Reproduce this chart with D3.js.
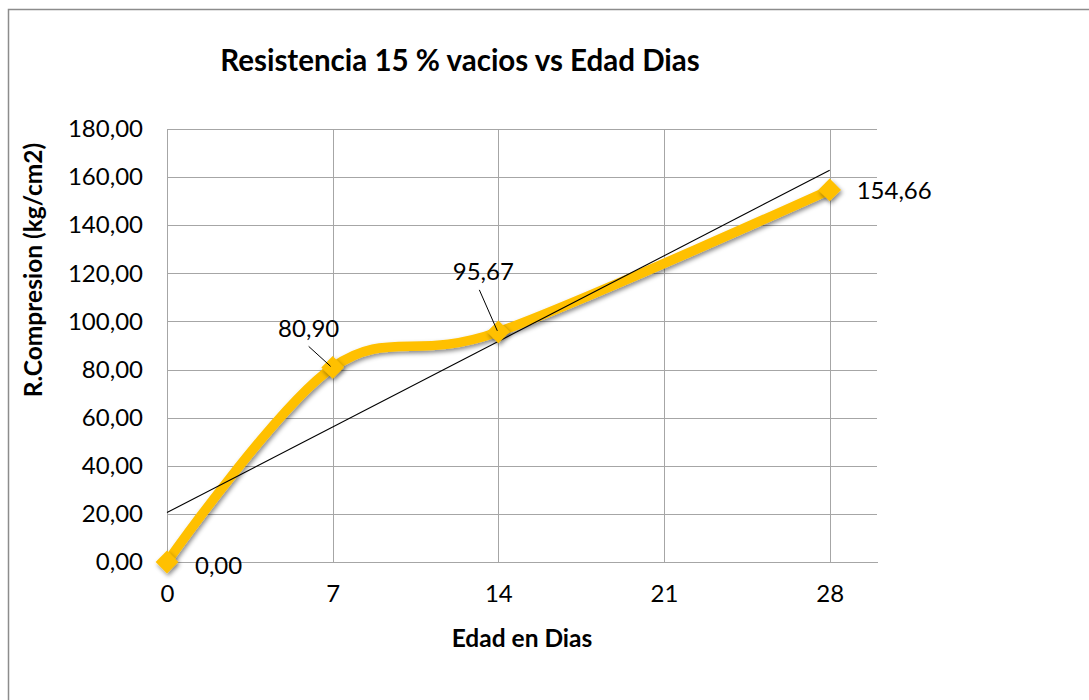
<!DOCTYPE html>
<html>
<head>
<meta charset="utf-8">
<script src="https://cdn.jsdelivr.net/npm/d3@7"></script>
<style>
  html, body { margin: 0; padding: 0; background: #fff; }
  svg { display: block; font-family: Lato, "Open Sans", sans-serif; }
</style>
</head>
<body>
<svg id="chart" width="1089" height="700"></svg>
<script>
// Compressive strength (kg/cm2) against age in days
const edadDias = [0, 7, 14, 28];
const resistencia = [0.00, 80.90, 95.67, 154.66];
const xTicks = [0, 7, 14, 21, 28];
const yTicks = [0, 20, 40, 60, 80, 100, 120, 140, 160, 180];

const titulo = "Resistencia 15 % vacios vs Edad Dias";
const tituloX = "Edad en Dias";
const tituloY = "R.Compresion (kg/cm2)";

const fmt = v => d3.format(".2f")(v).replace(".", ",");

const svg = d3.select("#chart");

// chart frame
svg.append("rect")
  .attr("x", 8.5).attr("y", 9.5)
  .attr("width", 1100).attr("height", 720)
  .attr("fill", "#fff").attr("stroke", "#8c8c8c").attr("stroke-width", 1.5);

const plot = { left: 167, right: 877, top: 129, bottom: 562 };

const x = d3.scaleLinear().domain([0, 30]).range([plot.left, plot.right]);
const y = d3.scaleLinear().domain([0, 180]).range([plot.bottom, plot.top]);

const defs = svg.append("defs");
const shadow = defs.append("filter").attr("id", "sombra")
  .attr("x", "-50%").attr("y", "-50%").attr("width", "200%").attr("height", "200%");
shadow.append("feDropShadow")
  .attr("dx", 1.5).attr("dy", 2.5).attr("stdDeviation", 2.2)
  .attr("flood-color", "#000").attr("flood-opacity", 0.45);

// horizontal gridlines
svg.append("g")
  .attr("transform", `translate(${plot.left},0)`)
  .call(d3.axisLeft(y).tickValues(yTicks).tickSize(-(plot.right - plot.left)).tickFormat(""))
  .call(g => g.select(".domain").remove())
  .call(g => g.selectAll("line").attr("stroke", "#a6a6a6").attr("shape-rendering", "crispEdges"));

// vertical gridlines
svg.append("g")
  .attr("transform", `translate(0,${plot.bottom})`)
  .call(d3.axisBottom(x).tickValues(xTicks).tickSize(-(plot.bottom - plot.top)).tickFormat(""))
  .call(g => g.select(".domain").remove())
  .call(g => g.selectAll("line").attr("stroke", "#a6a6a6").attr("shape-rendering", "crispEdges"));

// y axis
const yAxis = svg.append("g")
  .attr("transform", `translate(${plot.left},0)`)
  .call(d3.axisLeft(y).tickValues(yTicks).tickSize(0).tickPadding(24).tickFormat(fmt));
yAxis.select(".domain").attr("stroke", "#a6a6a6").attr("shape-rendering", "crispEdges");
yAxis.selectAll("text").attr("font-size", 24).attr("fill", "#000")
  .attr("font-family", "Lato, sans-serif");

// x axis
const xAxis = svg.append("g")
  .attr("transform", `translate(0,${plot.bottom})`)
  .call(d3.axisBottom(x).tickValues(xTicks).tickSize(0).tickPadding(23).tickFormat(d3.format("d")));
xAxis.select(".domain").attr("stroke", "#a6a6a6").attr("shape-rendering", "crispEdges");
xAxis.selectAll("text").attr("font-size", 24).attr("fill", "#000")
  .attr("font-family", "Lato, sans-serif");

// titles
svg.append("text")
  .attr("x", 460).attr("y", 71)
  .attr("text-anchor", "middle")
  .attr("font-size", 29.5).attr("font-weight", "bold")
  .text(titulo);

svg.append("text")
  .attr("x", 522).attr("y", 647)
  .attr("text-anchor", "middle")
  .attr("font-size", 24.5).attr("font-weight", "bold")
  .text(tituloX);

svg.append("text")
  .attr("transform", "translate(42,270) rotate(-90)")
  .attr("text-anchor", "middle")
  .attr("font-size", 24.5).attr("font-weight", "bold")
  .text(tituloY);

const datos = edadDias.map((d, i) => ({ x: d, y: resistencia[i] }));

// smoothed series line
svg.append("path")
  .datum(datos)
  .attr("fill", "none")
  .attr("stroke", "#FFC000")
  .attr("stroke-width", 9.5)
  .attr("stroke-linejoin", "round")
  .attr("filter", "url(#sombra)")
  .attr("d", d3.line().x(d => x(d.x)).y(d => y(d.y)).curve(d3.curveCardinal.tension(0)));

// linear trendline (least squares)
const mx = d3.mean(edadDias), my = d3.mean(resistencia);
const pendiente = d3.sum(datos, d => (d.x - mx) * (d.y - my)) / d3.sum(datos, d => (d.x - mx) ** 2);
const intercepto = my - pendiente * mx;
const xExt = d3.extent(edadDias);
svg.append("line")
  .attr("x1", x(xExt[0])).attr("y1", y(intercepto + pendiente * xExt[0]))
  .attr("x2", x(xExt[1])).attr("y2", y(intercepto + pendiente * xExt[1]))
  .attr("stroke", "#000").attr("stroke-width", 1.1);

// diamond markers
svg.append("g").selectAll("path")
  .data(datos)
  .join("path")
  .attr("transform", d => `translate(${x(d.x)},${y(d.y)})`)
  .attr("d", d3.symbol(d3.symbolDiamond2, 330)())
  .attr("fill", "#FFC000")
  .attr("filter", "url(#sombra)");

// data labels
const etiquetas = [
  { dx: 28, dy: 12, anchor: "start", leader: null },
  { dx: -24, dy: -30, anchor: "middle", leader: [[-24, -21], [-2, -1]] },
  { dx: -15, dy: -52, anchor: "middle", leader: [[-19, -42], [-1, -1]] },
  { dx: 27, dy: 9, anchor: "start", leader: null }
];
const lbl = svg.append("g");
datos.forEach((d, i) => {
  const e = etiquetas[i];
  const px = x(d.x), py = y(d.y);
  if (e.leader) {
    lbl.append("line")
      .attr("x1", px + e.leader[0][0]).attr("y1", py + e.leader[0][1])
      .attr("x2", px + e.leader[1][0]).attr("y2", py + e.leader[1][1])
      .attr("stroke", "#000").attr("stroke-width", 1);
  }
  lbl.append("text")
    .attr("x", px + e.dx).attr("y", py + e.dy)
    .attr("text-anchor", e.anchor)
    .attr("font-size", 24)
    .text(fmt(d.y));
});
</script>
</body>
</html>
